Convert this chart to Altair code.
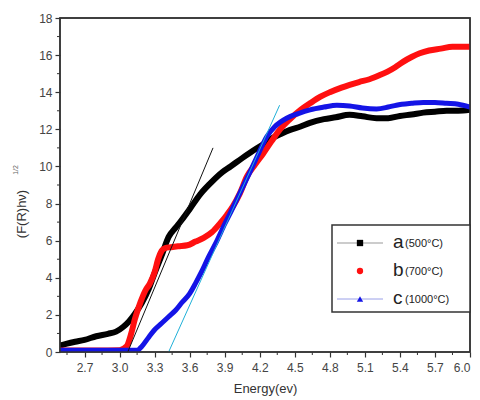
import altair as alt
import pandas as pd

# ---- data ----
E_a = [2.49, 2.55, 2.62, 2.70, 2.80, 2.90, 2.97, 3.03, 3.08, 3.13, 3.19, 3.25, 3.30, 3.36, 3.42,
       3.48, 3.53, 3.60, 3.69, 3.77, 3.88, 3.95, 4.05, 4.12, 4.23, 4.30, 4.38, 4.46, 4.55, 4.63,
       4.75, 4.85, 4.97, 5.08, 5.20, 5.30, 5.40, 5.50, 5.60, 5.70, 5.80, 5.90, 6.00]
v_a = [0.35, 0.45, 0.55, 0.65, 0.85, 0.98, 1.10, 1.35, 1.65, 2.05, 2.64, 3.40, 4.25, 5.20, 6.20,
       6.70, 7.10, 7.70, 8.50, 9.05, 9.70, 10.00, 10.45, 10.75, 11.20, 11.50, 11.75, 11.97, 12.15, 12.35,
       12.55, 12.65, 12.78, 12.70, 12.60, 12.60, 12.72, 12.80, 12.90, 12.95, 13.00, 13.00, 13.05]

E_b = [2.49, 2.80, 3.00, 3.06, 3.10, 3.13, 3.18, 3.22, 3.26, 3.30, 3.33, 3.36, 3.39, 3.44, 3.50,
       3.58, 3.65, 3.72, 3.79, 3.86, 3.92, 3.97, 4.03, 4.09, 4.16, 4.23, 4.30, 4.37, 4.45, 4.55,
       4.63, 4.72, 4.80, 4.90, 4.97, 5.05, 5.14, 5.22, 5.29, 5.36, 5.43, 5.50, 5.57, 5.65, 5.75,
       5.85, 5.97, 6.00]
v_b = [0.08, 0.08, 0.10, 0.30, 1.00, 1.75, 2.70, 3.30, 3.70, 4.30, 5.00, 5.45, 5.60, 5.65, 5.70,
       5.75, 5.95, 6.15, 6.45, 6.93, 7.40, 7.85, 8.55, 9.45, 10.10, 10.70, 11.35, 11.97, 12.50, 13.05,
       13.40, 13.76, 14.00, 14.25, 14.40, 14.55, 14.70, 14.90, 15.10, 15.35, 15.65, 15.90, 16.10, 16.25, 16.35,
       16.45, 16.45, 16.45]

E_c = [2.49, 2.80, 3.00, 3.15, 3.19, 3.25, 3.30, 3.36, 3.42, 3.48, 3.53, 3.60, 3.65, 3.70, 3.76,
       3.83, 3.90, 3.96, 4.04, 4.12, 4.19, 4.26, 4.33, 4.43, 4.53, 4.63, 4.75, 4.86, 4.97, 5.08,
       5.20, 5.30, 5.37, 5.50, 5.60, 5.70, 5.80, 5.90, 6.00]
v_c = [0.10, 0.10, 0.10, 0.10, 0.30, 0.80, 1.20, 1.55, 1.90, 2.25, 2.64, 3.15, 3.70, 4.30, 5.10,
       5.95, 6.90, 7.65, 8.70, 9.75, 10.70, 11.60, 12.15, 12.60, 12.85, 13.05, 13.20, 13.30, 13.26, 13.15,
       13.10, 13.20, 13.30, 13.40, 13.45, 13.45, 13.40, 13.35, 13.20]

tan_a_E = [3.07, 3.80]
tan_a_v = [0.0, 11.0]
tan_c_E = [3.42, 4.37]
tan_c_v = [0.0, 13.3]

x_ticks = [2.7, 3.0, 3.3, 3.6, 3.9, 4.2, 4.5, 4.8, 5.1, 5.4, 5.7, 6.0]
x_minor = [2.55, 2.85, 3.15, 3.45, 3.75, 4.05, 4.35, 4.65, 4.95, 5.25, 5.55, 5.85]
y_ticks = [0, 2, 4, 6, 8, 10, 12, 14, 16, 18]
y_minor = [1, 3, 5, 7, 9, 11, 13, 15, 17]

legend_letters = ["a", "b", "c"]
legend_temps = ["(500°C)", "(700°C)", "(1000°C)"]
colors = ["#000000", "#ff1010", "#1414e6"]

W, H = 410, 334
XD = [2.49, 6.0]
YD = [0, 18]

xs = alt.Scale(domain=XD, nice=False, zero=False)
ys = alt.Scale(domain=YD, nice=False, zero=False)

df_a = pd.DataFrame({"E": E_a, "v": v_a})
df_b = pd.DataFrame({"E": E_b, "v": v_b})
df_c = pd.DataFrame({"E": E_c, "v": v_c})
df_ta = pd.DataFrame({"E": tan_a_E, "v": tan_a_v})
df_tc = pd.DataFrame({"E": tan_c_E, "v": tan_c_v})

FONT = "Liberation Sans"

AX = alt.Axis(values=x_ticks, format=".1f", title="Energy(ev)",
              labelFont=FONT, labelFontSize=12, labelColor="#444",
              tickSize=5, tickColor="#333", tickWidth=1.2, domain=False,
              grid=False, labelPadding=5, labelOverlap=False, labelFlush=True,
              titleFont=FONT, titleFontSize=13, titleFontWeight="normal",
              titleColor="#333", titlePadding=9)
AY = alt.Axis(values=y_ticks, format="d", title=None,
              labelFont=FONT, labelFontSize=12, labelColor="#444",
              tickSize=5, tickColor="#333", tickWidth=1.2, domain=False,
              grid=False, labelPadding=3, labelOverlap=False, labelFlush=False)

def X():
    return alt.X("E:Q", scale=xs, axis=AX, title="Energy(ev)")

def Y():
    return alt.Y("v:Q", scale=ys, axis=AY, title=None)

def series(df, color, sw):
    return alt.Chart(df).mark_line(color=color, strokeWidth=sw, interpolate="monotone",
                                   clip=True, strokeCap="square").encode(x=X(), y=Y())

frame = alt.Chart(pd.DataFrame({"k": [0]})).mark_rect(
    fillOpacity=0, stroke="#333", strokeWidth=1.5).encode(
    x=alt.value(0), x2=alt.value(W), y=alt.value(0), y2=alt.value(H))

minor_x = alt.Chart(pd.DataFrame({"E": x_minor})).mark_rule(color="#333", strokeWidth=1).encode(
    x=X(), y=alt.value(H), y2=alt.value(H + 3))
minor_y = alt.Chart(pd.DataFrame({"v": y_minor})).mark_rule(color="#333", strokeWidth=1).encode(
    y=Y(), x=alt.value(0), x2=alt.value(-3))

tan_a = alt.Chart(df_ta).mark_line(color="#111111", strokeWidth=1).encode(x=X(), y=Y())
tan_c = alt.Chart(df_tc).mark_line(color="#20b0d8", strokeWidth=1).encode(x=X(), y=Y())

# y title (manual, with superscript)
ytitle = alt.Chart(pd.DataFrame({"t": ["(F(R)hν)"]})).mark_text(
    angle=270, font=FONT, fontSize=13, color="#333", align="center", baseline="middle").encode(
    text="t:N", x=alt.value(-38), y=alt.value(196))
ysup = alt.Chart(pd.DataFrame({"t": ["1/2"]})).mark_text(
    angle=270, font=FONT, fontSize=7, color="#666", align="center", baseline="middle").encode(
    text="t:N", x=alt.value(-44), y=alt.value(152))

# legend
leg_box = alt.Chart(pd.DataFrame({"k": [0]})).mark_rect(
    fill="white", stroke="#333", strokeWidth=1.5).encode(
    x=alt.value(272), x2=alt.value(410), y=alt.value(207), y2=alt.value(294))
rows = [225, 253, 281]
leg_layers = []
line_cols = ["#999999", None, "#9aa0e8"]
shapes = ["square", "circle", "triangle-up"]
for i in range(3):
    if line_cols[i]:
        leg_layers.append(alt.Chart(pd.DataFrame({"k": [i]})).mark_rule(
            color=line_cols[i], strokeWidth=1).encode(
            x=alt.value(277), x2=alt.value(323), y=alt.value(rows[i])))
    leg_layers.append(alt.Chart(pd.DataFrame({"k": [i]})).mark_point(
        shape=shapes[i], filled=True, color=colors[i], size=40, opacity=1).encode(
        x=alt.value(300), y=alt.value(rows[i])))
    leg_layers.append(alt.Chart(pd.DataFrame({"t": [legend_letters[i]]})).mark_text(
        font=FONT, fontSize=19, color="#222", align="left", baseline="middle").encode(
        text="t:N", x=alt.value(333), y=alt.value(rows[i] - 1)))
    leg_layers.append(alt.Chart(pd.DataFrame({"t": [legend_temps[i]]})).mark_text(
        font=FONT, fontSize=11, color="#222", align="left", baseline="middle").encode(
        text="t:N", x=alt.value(345), y=alt.value(rows[i] + 1)))

chart = alt.layer(
    minor_x, minor_y,
    series(df_a, colors[0], 6), series(df_b, colors[1], 6), series(df_c, colors[2], 5),
    tan_a, tan_c, frame, ytitle, ysup, leg_box, *leg_layers
).properties(
    width=W, height=H, autosize="none",
    padding={"left": 52, "top": 10, "right": 2, "bottom": 50}
).configure(background="white").configure_view(stroke="#333", strokeWidth=1.5)

chart.save("out.html", embed_options={"renderer": "svg", "actions": False})
